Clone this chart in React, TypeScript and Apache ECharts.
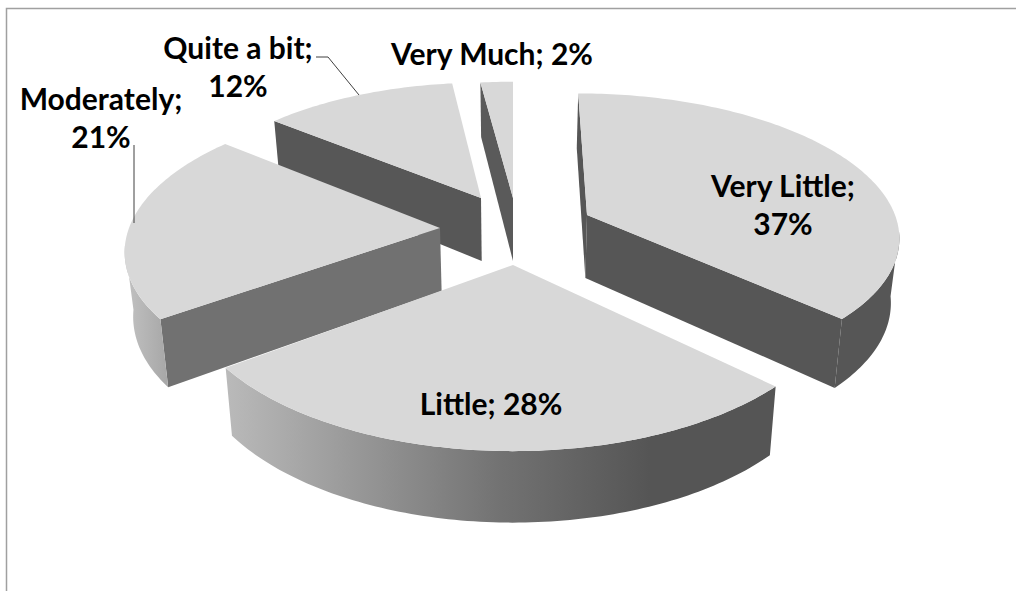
import React, { useEffect, useRef } from "react";
import * as echarts from "echarts";

const categories = ["Very Little", "Little", "Moderately", "Quite a bit", "Very Much"];
const percentages = [37, 28, 21, 12, 2];
const labelLines = [
  ["Very Little;", "37%"],
  ["Little; 28%"],
  ["Moderately;", "21%"],
  ["Quite a bit;", "12%"],
  ["Very Much; 2%"],
];

// View of the tilted, exploded pie: apex, radii and paint order of each slice.
const apexX = [587, 513, 440, 481, 513];
const apexY = [215, 265, 228, 198, 198];
const radiusX = [308, 327, 311, 295, 295];
const radiusY = [138, 161, 143, 131, 132];
const paintOrder = [3, 4, 2, 1, 0];
const labelX = [783, 491, 101, 238, 492];
const labelY = [204, 403, 117, 66, 53];
const PERSPECTIVE = 0.135;
const VANISH_X = 513;
const BOTTOM_SHRINK = 0.978;
const WALL_FROM = 97;
const WALL_TO = 263;

const TOP_COLOR = "#d8d8d8";
const DARK = "#565656";
const grad = (x0: number, x1: number, stops: [number, string][]) =>
  new echarts.graphic.LinearGradient(
    x0, 0, x1, 0,
    stops.map(([offset, color]) => ({ offset, color })),
    true
  );

const wallFill = [
  () => DARK,
  () => grad(225, 650, [[0, "#bababa"], [0.65, "#727272"], [1, "#555555"]]),
  () => grad(125, 166, [[0, "#c2c2c2"], [1, "#a8a8a8"]]),
  () => "#575757",
  () => "#5a5a5a",
];
const edgeFill = [DARK, DARK, "#717171", "#575757", "#5a5a5a"];

function project(i: number, deg: number, atApex: boolean, bottom: boolean): number[] {
  const a = (deg * Math.PI) / 180;
  const u = atApex ? 0 : Math.sin(a);
  const v = atApex ? 0 : -Math.cos(a);
  const p = 1 / (1 - PERSPECTIVE * v);
  let x = VANISH_X + (apexX[i] - VANISH_X) * p + radiusX[i] * u * p;
  let y = apexY[i] + radiusY[i] * v * p;
  if (bottom) {
    x = VANISH_X + (x - VANISH_X) * BOTTOM_SHRINK;
    y += 63 + 8.5 * v;
  }
  return [x, y];
}

function arc(i: number, from: number, to: number, bottom: boolean): number[][] {
  const pts: number[][] = [];
  const n = Math.max(2, Math.ceil(to - from));
  for (let k = 0; k <= n; k++) pts.push(project(i, from + ((to - from) * k) / n, false, bottom));
  return pts;
}

// A cut face shows only when its outward normal points towards the viewer.
const faceVisible = (normalDeg: number) => -Math.cos((normalDeg * Math.PI) / 180) > -0.01;

export default function App() {
  const ref = useRef<HTMLDivElement>(null);
  useEffect(() => {
    const chart = echarts.init(ref.current!, undefined, { renderer: "svg" });
    const total = percentages.reduce((s, v) => s + v, 0);
    const starts: number[] = [];
    let acc = 0;
    percentages.forEach((v) => {
      starts.push((acc / total) * 360);
      acc += v;
    });

    chart.setOption({
      animation: false,
      backgroundColor: "#ffffff",
      graphic: [
        {
          type: "polyline",
          silent: true,
          shape: { points: [[6.5, 591], [6.5, 8.5], [1016, 8.5]] },
          style: { fill: "none", stroke: "#a0a0a0", lineWidth: 1.5 },
        },
        {
          type: "polyline",
          silent: true,
          z: 10,
          shape: { points: [[316, 57], [328, 57], [359, 95]] },
          style: { fill: "none", stroke: "#404040", lineWidth: 1 },
        },
        {
          type: "line",
          silent: true,
          z: 10,
          shape: { x1: 134, y1: 145, x2: 134, y2: 223 },
          style: { stroke: "#404040", lineWidth: 1 },
        },
      ],
      series: [
        {
          type: "custom",
          coordinateSystem: "none",
          silent: true,
          data: categories.map((name, i) => ({ name, value: percentages[i] })),
          renderItem: (params: any, api: any) => {
            const i = params.dataIndex;
            const from = starts[i];
            const to = from + (Number(api.value(0)) / total) * 360;
            const z = paintOrder[i] * 10;
            const topArc = arc(i, from, to, false);
            const edge = (deg: number) => [
              project(i, deg, true, false),
              project(i, deg, false, false),
              project(i, deg, false, true),
              project(i, deg, true, true),
            ];
            const children: any[] = [];
            if (faceVisible(from - 90)) {
              children.push({
                type: "polygon",
                z2: z,
                shape: { points: edge(from) },
                style: { fill: edgeFill[i] },
              });
            }
            if (faceVisible(to + 90)) {
              children.push({
                type: "polygon",
                z2: z + 1,
                shape: { points: edge(to) },
                style: { fill: edgeFill[i] },
              });
            }
            const wallA = Math.max(from, WALL_FROM);
            const wallB = Math.min(to, WALL_TO);
            if (wallB > wallA) {
              children.push({
                type: "polygon",
                z2: z + 2,
                shape: {
                  points: [...arc(i, wallA, wallB, false), ...arc(i, wallA, wallB, true).reverse()],
                },
                style: { fill: wallFill[i]() },
              });
            }
            children.push(
              {
                type: "polygon",
                z2: z + 3,
                shape: { points: [project(i, 0, true, false), ...topArc] },
                style: { fill: TOP_COLOR },
              },
              {
                type: "text",
                z2: 200,
                x: labelX[i],
                y: labelY[i],
                style: {
                  text: labelLines[i].join("\n"),
                  fill: "#000000",
                  font: "bold 30px Lato, sans-serif",
                  lineHeight: 38,
                  align: "center",
                  verticalAlign: "middle",
                },
              }
            );
            return { type: "group", children };
          },
        },
      ],
    });
    return () => chart.dispose();
  }, []);
  return <div ref={ref} style={{ position: "fixed", left: 0, top: 0, width: 1016, height: 591 }} />;
}
